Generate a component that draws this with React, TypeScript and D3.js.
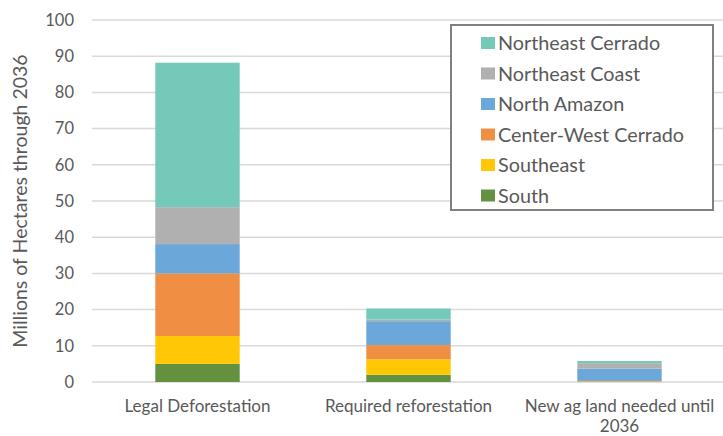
import React from "react";
import * as d3 from "d3";

const categories = ["Legal Deforestation", "Required reforestation", "New ag land needed until 2036"];
const categoryLines = [["Legal Deforestation"], ["Required reforestation"], ["New ag land needed until", "2036"]];
const seriesNames = ["South", "Southeast", "Center-West Cerrado", "North Amazon", "Northeast Coast", "Northeast Cerrado"];
const south = [5.0, 2.0, 0.0];
const southeast = [7.7, 4.3, 0.1];
const centerWest = [17.3, 3.9, 0.2];
const northAmazon = [8.1, 6.6, 3.4];
const northeastCoast = [10.2, 0.5, 1.5];
const northeastCerrado = [39.9, 3.0, 0.6];
const yTicks = [0, 10, 20, 30, 40, 50, 60, 70, 80, 90, 100];
const colors = ["#63913F", "#FFC706", "#F08F44", "#6BA7D9", "#B0B0B0", "#75C9B9"];

const W = 723, H = 436;
const FONT = "Lato, 'Open Sans', sans-serif";

export default function App() {
  const seriesVals = [south, southeast, centerWest, northAmazon, northeastCoast, northeastCerrado];
  const rows = categories.map((c, i) => {
    const r: any = { cat: c };
    seriesNames.forEach((s, j) => (r[s] = seriesVals[j][i]));
    return r;
  });
  const stack = d3.stack().keys(seriesNames)(rows);
  const x = d3.scaleBand().domain(categories).range([92, 725]).paddingInner(0.6).paddingOuter(0.3);
  const y = d3.scaleLinear().domain([0, 100]).range([382, 20]);
  const legendOrder = [...seriesNames].reverse();
  return (
    <svg width={W} height={H} style={{ position: "absolute", left: 0, top: 0, background: "#fff" }} fontFamily={FONT}>
      {yTicks.map((t) => (
        <g key={t}>
          <line x1={92} x2={723} y1={y(t)} y2={y(t)} stroke="#d9d9d9" strokeWidth={1.5} />
          <text x={74} y={y(t)} dy="0.35em" textAnchor="end" fontSize={16.5} fill="#595959">{t}</text>
        </g>
      ))}
      {stack.map((layer, j) => (
        <g key={layer.key} fill={colors[j]}>
          {layer.map((d, i) => (
            <rect key={i} x={x(categories[i])} width={x.bandwidth()} y={y(d[1])} height={Math.max(0, y(d[0]) - y(d[1]))} />
          ))}
        </g>
      ))}
      {categories.map((c, i) => (
        <text key={c} x={(x(c) as number) + x.bandwidth() / 2} y={411.5} textAnchor="middle" fontSize={17} fill="#595959">
          {categoryLines[i].map((l, k) => (
            <tspan key={k} x={(x(c) as number) + x.bandwidth() / 2} dy={k === 0 ? 0 : 20.5}>{l}</tspan>
          ))}
        </text>
      ))}
      <text transform={`translate(27,201) rotate(-90)`} textAnchor="middle" fontSize={19.5} fill="#595959">
        Millions of Hectares through 2036
      </text>
      <rect x={451} y={25} width={262} height={185} fill="#fff" stroke="#808080" strokeWidth={2} />
      {legendOrder.map((s, k) => {
        const cy = 43 + k * 30.5;
        const ci = seriesNames.indexOf(s);
        return (
          <g key={s}>
            <rect x={481} y={cy - 6} width={14} height={12} fill={colors[ci]} />
            <text x={498} y={cy + 7} fontSize={19.8} fill="#595959">{s}</text>
          </g>
        );
      })}
    </svg>
  );
}
